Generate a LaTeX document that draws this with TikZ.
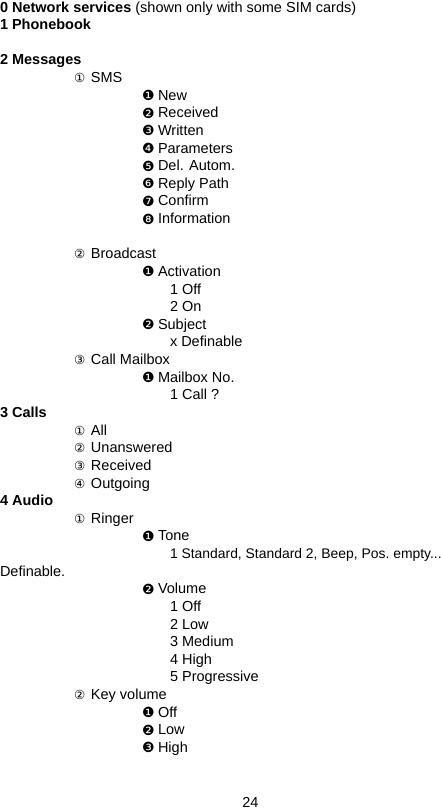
\documentclass[tikz,border=0pt]{standalone}
\usepackage{fontspec}
\setmainfont{Liberation Sans}
\newfontfamily\symfont{DejaVu Sans}
\newcommand{\circd}[1]{\makebox[17pt][l]{\fontsize{12.5}{13}\selectfont\symfont\raisebox{0pt}{#1}}}
\newcommand{\negd}[1]{\makebox[16pt][l]{\fontsize{14}{14}\selectfont\symfont\raisebox{-0.5pt}{#1}}}
\begin{document}
\begin{tikzpicture}[x=1pt,y=-1pt,
  every node/.style={inner sep=0pt,outer sep=0pt,anchor=base west,font=\fontsize{14.5}{16}\selectfont},
  head/.style={font=\fontsize{14.5}{16}\selectfont\bfseries},
  lvla/.style={},lvlb/.style={},lvlc/.style={}]
\useasboundingbox (0,0) rectangle (441,809);
\def\L{17.63}
\node[head] (n0) at (0,12) {0 Network services \mdseries(shown only with some SIM cards)};
\node[head] (n1) at (0,12+1*\L) {1 Phonebook};
\node[head] (n3) at (0,12+3*\L) {2 Messages};
\node[lvla] (n4) at (74,12+4*\L) {\circd{①}SMS};
\node[lvlb] (n5) at (142,12+5*\L) {\negd{❶}New};
\node[lvlb] (n6) at (142,12+6*\L) {\negd{❷}Received};
\node[lvlb] (n7) at (142,12+7*\L) {\negd{❸}Written};
\node[lvlb] (n8) at (142,12+8*\L) {\negd{❹}Parameters};
\node[lvlb] (n9) at (142,12+9*\L) {\negd{❺}Del. Autom.};
\node[lvlb] (n10) at (142,12+10*\L) {\negd{❻}Reply Path};
\node[lvlb] (n11) at (142,12+11*\L) {\negd{❼}Confirm};
\node[lvlb] (n12) at (142,12+12*\L) {\negd{❽}Information};
\node[lvla] (n14) at (74,12+14*\L) {\circd{②}Broadcast};
\node[lvlb] (n15) at (142,12+15*\L) {\negd{❶}Activation};
\node[lvlc] (n16) at (170,12+16*\L) {1 Off};
\node[lvlc] (n17) at (170,12+17*\L) {2 On};
\node[lvlb] (n18) at (142,12+18*\L) {\negd{❷}Subject};
\node[lvlc] (n19) at (170,12+19*\L) {x Definable};
\node[lvla] (n20) at (74,12+20*\L) {\circd{③}Call Mailbox};
\node[lvlb] (n21) at (142,12+21*\L) {\negd{❶}Mailbox No.};
\node[lvlc] (n22) at (170,12+22*\L) {1 Call ?};
\node[head] (n23) at (0,12+23*\L) {3 Calls};
\node[lvla] (n24) at (74,12+24*\L) {\circd{①}All};
\node[lvla] (n25) at (74,12+25*\L) {\circd{②}Unanswered};
\node[lvla] (n26) at (74,12+26*\L) {\circd{③}Received};
\node[lvla] (n27) at (74,12+27*\L) {\circd{④}Outgoing};
\node[head] (n28) at (0,12+28*\L) {4 Audio};
\node[lvla] (n29) at (74,12+29*\L) {\circd{①}Ringer};
\node[lvlb] (n30) at (142,12+30*\L) {\negd{❶}Tone};
\node[lvlc,font=\fontsize{13.9}{16}\selectfont] (n31) at (170,12+31*\L) {1 Standard, Standard 2, Beep, Pos.\ empty...};
\node (n32) at (0,12+32*\L) {Definable.};
\node[lvlb] (n33) at (142,12+33*\L) {\negd{❷}Volume};
\node[lvlc] (n34) at (170,12+34*\L) {1 Off};
\node[lvlc] (n35) at (170,12+35*\L) {2 Low};
\node[lvlc] (n36) at (170,12+36*\L) {3 Medium};
\node[lvlc] (n37) at (170,12+37*\L) {4 High};
\node[lvlc] (n38) at (170,12+38*\L) {5 Progressive};
\node[lvla] (n39) at (74,12+39*\L) {\circd{②}Key volume};
\node[lvlb] (n40) at (142,12+40*\L) {\negd{❶}Off};
\node[lvlb] (n41) at (142,12+41*\L) {\negd{❷}Low};
\node[lvlb] (n42) at (142,12+42*\L) {\negd{❸}High};
\node[anchor=base] (pg) at (250.5,807) {24};
\end{tikzpicture}
\end{document}
